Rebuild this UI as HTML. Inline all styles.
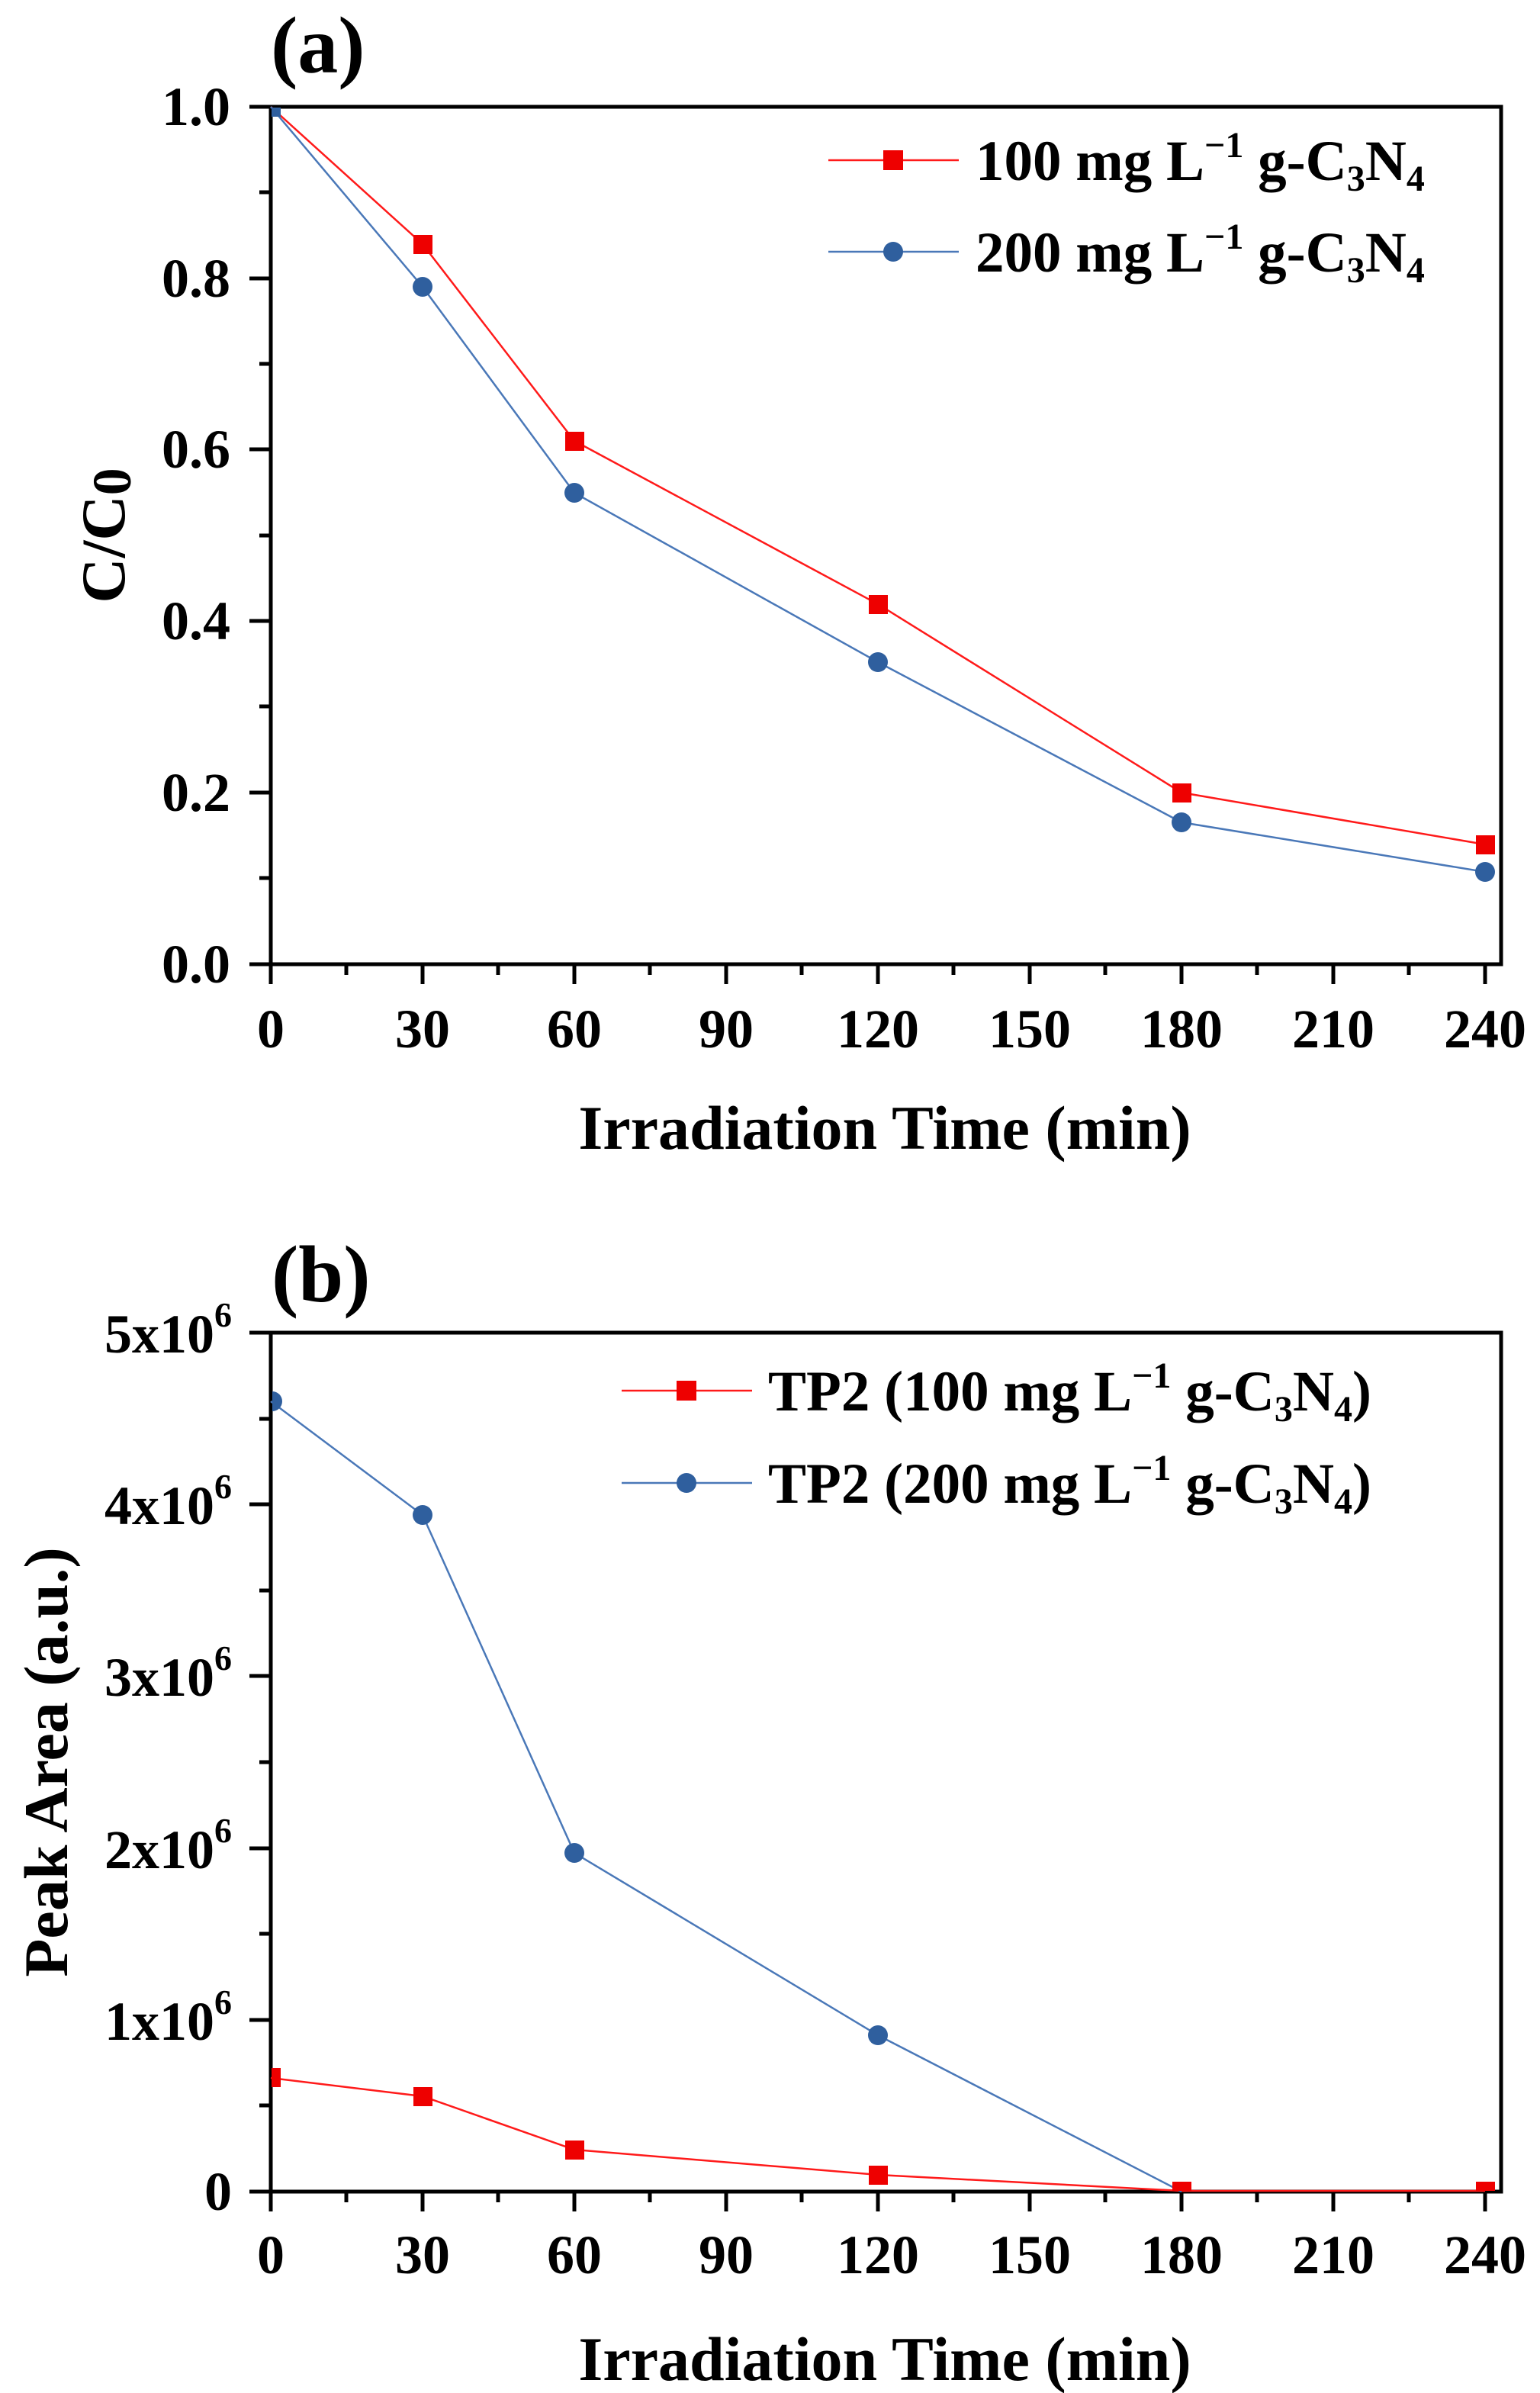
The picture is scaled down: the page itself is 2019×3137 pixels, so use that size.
<!DOCTYPE html>
<html><head><meta charset="utf-8"><style>
html,body{margin:0;padding:0;background:#fff;}
svg{display:block;}
text{font-family:"Liberation Serif","DejaVu Serif",serif;font-weight:bold;fill:#000;}
</style></head><body>
<svg width="2019" height="3137" viewBox="0 0 2019 3137" xmlns="http://www.w3.org/2000/svg">
<rect width="2019" height="3137" fill="#fff"/>

<!-- ===== Panel (a) ===== -->
<text x="355" y="95" font-size="106">(a)</text>
<g stroke="#000" stroke-width="5" fill="none">
<rect x="355" y="140" width="1613" height="1124"/>
</g>
<g stroke="#000" stroke-width="5">
<!-- y major -->
<line x1="327" y1="140" x2="355" y2="140"/><line x1="327" y1="365" x2="355" y2="365"/>
<line x1="327" y1="589" x2="355" y2="589"/><line x1="327" y1="814" x2="355" y2="814"/>
<line x1="327" y1="1039" x2="355" y2="1039"/><line x1="327" y1="1264" x2="355" y2="1264"/>
<!-- y minor -->
<line x1="340" y1="252" x2="355" y2="252"/><line x1="340" y1="477" x2="355" y2="477"/>
<line x1="340" y1="702" x2="355" y2="702"/><line x1="340" y1="926" x2="355" y2="926"/>
<line x1="340" y1="1151" x2="355" y2="1151"/>
<!-- x major -->
<line x1="355" y1="1264" x2="355" y2="1290"/><line x1="554" y1="1264" x2="554" y2="1290"/>
<line x1="753" y1="1264" x2="753" y2="1290"/><line x1="952" y1="1264" x2="952" y2="1290"/>
<line x1="1151" y1="1264" x2="1151" y2="1290"/><line x1="1350" y1="1264" x2="1350" y2="1290"/>
<line x1="1549" y1="1264" x2="1549" y2="1290"/><line x1="1748" y1="1264" x2="1748" y2="1290"/>
<line x1="1947" y1="1264" x2="1947" y2="1290"/>
<!-- x minor -->
<line x1="454" y1="1264" x2="454" y2="1278"/><line x1="653" y1="1264" x2="653" y2="1278"/>
<line x1="852" y1="1264" x2="852" y2="1278"/><line x1="1051" y1="1264" x2="1051" y2="1278"/>
<line x1="1250" y1="1264" x2="1250" y2="1278"/><line x1="1449" y1="1264" x2="1449" y2="1278"/>
<line x1="1648" y1="1264" x2="1648" y2="1278"/><line x1="1847" y1="1264" x2="1847" y2="1278"/>
</g>
<g font-size="72" text-anchor="end">
<text x="302" y="164">1.0</text><text x="302" y="389">0.8</text><text x="302" y="613">0.6</text>
<text x="302" y="838">0.4</text><text x="302" y="1063">0.2</text><text x="302" y="1288">0.0</text>
</g>
<g font-size="72" text-anchor="middle">
<text x="355" y="1373">0</text><text x="554" y="1373">30</text><text x="753" y="1373">60</text>
<text x="952" y="1373">90</text><text x="1151" y="1373">120</text><text x="1350" y="1373">150</text>
<text x="1549" y="1373">180</text><text x="1748" y="1373">210</text><text x="1947" y="1373">240</text>
</g>
<text x="1160" y="1506" font-size="82" text-anchor="middle">Irradiation Time (min)</text>
<text transform="translate(163,702) rotate(-90)" font-size="82" text-anchor="middle">C/C<tspan font-size="72" dy="8">0</tspan></text>

<!-- series (a) -->
<polyline points="355,140 554,320 753,578 1151,792 1549,1039 1947,1107" fill="none" stroke="#ff1a1a" stroke-width="2.5"/>
<polyline points="355,140 554,376 753,646 1151,868 1549,1078 1947,1143" fill="none" stroke="#4a78b8" stroke-width="2.5"/>
<g fill="#ee0000">
<rect x="542" y="308" width="25" height="25"/><rect x="741" y="566" width="25" height="25"/>
<rect x="1139" y="780" width="25" height="25"/><rect x="1537" y="1027" width="25" height="25"/>
<rect x="1935" y="1095" width="25" height="25"/>
</g>
<g fill="#2f5f9e">
<circle cx="554" cy="376" r="13"/><circle cx="753" cy="646" r="13"/><circle cx="1151" cy="868" r="13"/>
<circle cx="1549" cy="1078" r="13"/><circle cx="1947" cy="1143" r="13"/>
<rect x="356" y="141" width="12" height="12"/>
</g>
<!-- legend (a) -->
<line x1="1086" y1="210" x2="1257" y2="210" stroke="#ff1a1a" stroke-width="2.5"/>
<rect x="1158" y="197" width="26" height="26" fill="#ee0000"/>
<line x1="1086" y1="330" x2="1257" y2="330" stroke="#4a78b8" stroke-width="2.5"/>
<circle cx="1171" cy="330" r="13" fill="#2f5f9e"/>
<g font-size="75">
<text x="1279" y="236">100 mg L<tspan font-size="48" dy="-30">−1</tspan><tspan dy="30"> g-C</tspan><tspan font-size="48" dy="14">3</tspan><tspan dy="-14">N</tspan><tspan font-size="48" dy="14">4</tspan></text>
<text x="1279" y="356">200 mg L<tspan font-size="48" dy="-30">−1</tspan><tspan dy="30"> g-C</tspan><tspan font-size="48" dy="14">3</tspan><tspan dy="-14">N</tspan><tspan font-size="48" dy="14">4</tspan></text>
</g>

<!-- ===== Panel (b) ===== -->
<text x="356" y="1706" font-size="106">(b)</text>
<rect x="355" y="1747" width="1613" height="1126" fill="none" stroke="#000" stroke-width="5"/>
<g stroke="#000" stroke-width="5">
<line x1="327" y1="1747" x2="355" y2="1747"/><line x1="327" y1="1972" x2="355" y2="1972"/>
<line x1="327" y1="2197" x2="355" y2="2197"/><line x1="327" y1="2423" x2="355" y2="2423"/>
<line x1="327" y1="2648" x2="355" y2="2648"/><line x1="327" y1="2873" x2="355" y2="2873"/>
<line x1="340" y1="1860" x2="355" y2="1860"/><line x1="340" y1="2085" x2="355" y2="2085"/>
<line x1="340" y1="2310" x2="355" y2="2310"/><line x1="340" y1="2535" x2="355" y2="2535"/>
<line x1="340" y1="2760" x2="355" y2="2760"/>
<line x1="355" y1="2873" x2="355" y2="2899"/><line x1="554" y1="2873" x2="554" y2="2899"/>
<line x1="753" y1="2873" x2="753" y2="2899"/><line x1="952" y1="2873" x2="952" y2="2899"/>
<line x1="1151" y1="2873" x2="1151" y2="2899"/><line x1="1350" y1="2873" x2="1350" y2="2899"/>
<line x1="1549" y1="2873" x2="1549" y2="2899"/><line x1="1748" y1="2873" x2="1748" y2="2899"/>
<line x1="1947" y1="2873" x2="1947" y2="2899"/>
<line x1="454" y1="2873" x2="454" y2="2887"/><line x1="653" y1="2873" x2="653" y2="2887"/>
<line x1="852" y1="2873" x2="852" y2="2887"/><line x1="1051" y1="2873" x2="1051" y2="2887"/>
<line x1="1250" y1="2873" x2="1250" y2="2887"/><line x1="1449" y1="2873" x2="1449" y2="2887"/>
<line x1="1648" y1="2873" x2="1648" y2="2887"/><line x1="1847" y1="2873" x2="1847" y2="2887"/>
</g>
<g font-size="72" text-anchor="end">
<text x="304" y="1773">5x10<tspan font-size="46" dy="-34">6</tspan></text>
<text x="304" y="1998">4x10<tspan font-size="46" dy="-34">6</tspan></text>
<text x="304" y="2223">3x10<tspan font-size="46" dy="-34">6</tspan></text>
<text x="304" y="2449">2x10<tspan font-size="46" dy="-34">6</tspan></text>
<text x="304" y="2674">1x10<tspan font-size="46" dy="-34">6</tspan></text>
<text x="304" y="2897">0</text>
</g>
<g font-size="72" text-anchor="middle">
<text x="355" y="2980">0</text><text x="554" y="2980">30</text><text x="753" y="2980">60</text>
<text x="952" y="2980">90</text><text x="1151" y="2980">120</text><text x="1350" y="2980">150</text>
<text x="1549" y="2980">180</text><text x="1748" y="2980">210</text><text x="1947" y="2980">240</text>
</g>
<text x="1160" y="3120" font-size="82" text-anchor="middle">Irradiation Time (min)</text>
<text transform="translate(88,2310) rotate(-90)" font-size="82" text-anchor="middle">Peak Area (a.u.)</text>

<polyline points="355,2724 554,2748 753,2818 1151,2851 1549,2872 1947,2872" fill="none" stroke="#ff1a1a" stroke-width="2.5"/>
<polyline points="355,1837 554,1986 753,2429 1151,2668 1549,2873" fill="none" stroke="#4a78b8" stroke-width="2.5"/>
<g fill="#ee0000">
<rect x="356" y="2711" width="12" height="25"/><rect x="542" y="2736" width="25" height="25"/>
<rect x="741" y="2806" width="25" height="25"/><rect x="1139" y="2839" width="25" height="25"/>
<rect x="1537" y="2860" width="25" height="12"/><rect x="1935" y="2860" width="25" height="12"/>
</g>
<g fill="#2f5f9e">
<path d="M357,1824 A13,13 0 0 1 357,1850 Z"/>
<circle cx="554" cy="1986" r="13"/><circle cx="753" cy="2429" r="13"/><circle cx="1151" cy="2668" r="13"/>
</g>
<!-- legend (b) -->
<line x1="815" y1="1823" x2="986" y2="1823" stroke="#ff1a1a" stroke-width="2.5"/>
<rect x="887" y="1810" width="26" height="26" fill="#ee0000"/>
<line x1="815" y1="1944" x2="986" y2="1944" stroke="#4a78b8" stroke-width="2.5"/>
<circle cx="900" cy="1944" r="13" fill="#2f5f9e"/>
<g font-size="75">
<text x="1007" y="1849">TP2 (100 mg L<tspan font-size="48" dy="-30">−1</tspan><tspan dy="30"> g-C</tspan><tspan font-size="48" dy="14">3</tspan><tspan dy="-14">N</tspan><tspan font-size="48" dy="14">4</tspan><tspan dy="-14">)</tspan></text>
<text x="1007" y="1970">TP2 (200 mg L<tspan font-size="48" dy="-30">−1</tspan><tspan dy="30"> g-C</tspan><tspan font-size="48" dy="14">3</tspan><tspan dy="-14">N</tspan><tspan font-size="48" dy="14">4</tspan><tspan dy="-14">)</tspan></text>
</g>
</svg>
</body></html>
